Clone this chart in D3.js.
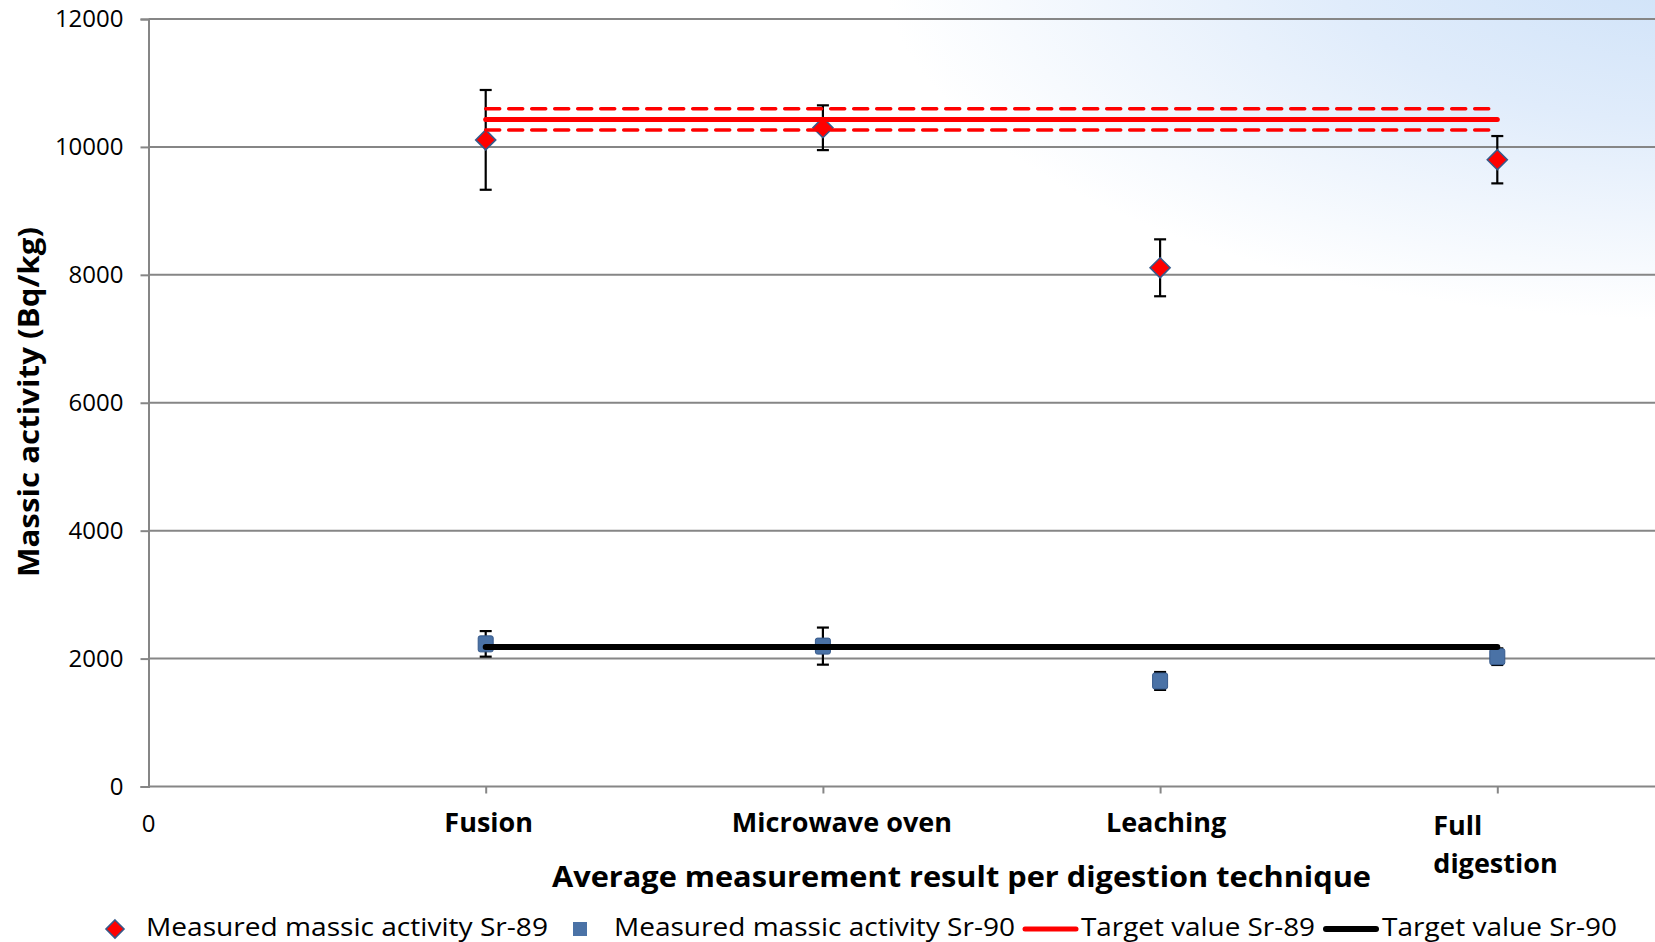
<!DOCTYPE html>
<html>
<head>
<meta charset="utf-8">
<script src="https://cdn.jsdelivr.net/npm/d3@7"></script>
<style>
  body { margin: 0; background: #fff; }
  svg { display: block; font-family: 'Open Sans', 'Noto Sans', sans-serif; }
</style>
</head>
<body>
<div id="chart"></div>
<script>
// categories sit at x = 1..4 on a numeric axis that starts at 0
const techniques = ['Fusion', 'Microwave oven', 'Leaching', 'Full digestion'];
const positions = [1, 2, 3, 4];

const sr89 = [10110, 10300, 8110, 9800];
const sr89Err = [780, 350, 445, 370];
const sr90 = [2230, 2195, 1650, 2030];
const sr90Err = [200, 290, 140, 130];

const target89 = 10430;
const target89Band = 165;
const target90 = 2180;

const yTicks = [0, 2000, 4000, 6000, 8000, 10000, 12000];
const legendLabels = [
  'Measured massic activity Sr-89',
  'Measured massic activity Sr-90',
  'Target value Sr-89',
  'Target value Sr-90'
];

const W = 1655, H = 942;
const RED = '#ff0000', BLUE = '#4a72a6', BLUE_EDGE = '#36598a', GRID = '#868686';

const svg = d3.select('#chart').append('svg')
  .attr('width', W).attr('height', H);

// slide background: light blue wash in the top right corner (elliptical)
const defs = svg.append('defs');
const grad = defs.append('radialGradient')
  .attr('id', 'bg').attr('gradientUnits', 'userSpaceOnUse')
  .attr('cx', 0).attr('cy', 0).attr('r', 1)
  .attr('gradientTransform', 'translate(1700,-40) scale(820,360)');
grad.append('stop').attr('offset', 0).attr('stop-color', '#cde1f8');
grad.append('stop').attr('offset', 0.45).attr('stop-color', '#e0ecfb');
grad.append('stop').attr('offset', 1).attr('stop-color', '#ffffff');
svg.append('rect').attr('width', W).attr('height', H).attr('fill', '#fff');
svg.append('rect').attr('width', W).attr('height', H).attr('fill', 'url(#bg)');

const x = d3.scaleLinear().domain([0, 5]).range([148.5, 1834.5]);
const y = d3.scaleLinear().domain([0, 12000]).range([786.5, 19]);

// gridlines
svg.append('g')
  .selectAll('line').data(yTicks.filter(d => d > 0)).join('line')
  .attr('x1', x(0)).attr('x2', W)
  .attr('y1', d => y(d)).attr('y2', d => y(d))
  .attr('stroke', GRID).attr('stroke-width', 2);

// y axis
const yAxis = svg.append('g')
  .attr('transform', `translate(${x(0)},0)`)
  .call(d3.axisLeft(y).tickValues(yTicks).tickSize(8).tickPadding(17).tickFormat(d3.format('d')));
yAxis.select('.domain').attr('stroke', GRID).attr('stroke-width', 2);
yAxis.selectAll('.tick line').attr('stroke', GRID).attr('stroke-width', 2);
yAxis.selectAll('.tick text')
  .attr('font-size', 24).attr('fill', '#000')
  .attr('font-family', "'Open Sans', sans-serif");

// x axis
const xAxis = svg.append('g')
  .attr('transform', `translate(0,${y(0)})`)
  .call(d3.axisBottom(x).tickValues(positions).tickSize(7).tickFormat(''));
xAxis.select('.domain').attr('d', `M${x(0)},0H${W}`).attr('stroke', GRID).attr('stroke-width', 2);
xAxis.selectAll('.tick line').attr('stroke', GRID).attr('stroke-width', 2);

// "0" at the origin
svg.append('text')
  .attr('x', x(0)).attr('y', 832)
  .attr('text-anchor', 'middle')
  .attr('font-size', 24)
  .text('0');

// category labels (placed as text boxes, slightly off the ticks)
const labelDx = [3, 19, 6, -64];
svg.append('g').selectAll('text').data(techniques).join('text')
  .attr('x', (d, i) => x(positions[i]) + labelDx[i])
  .attr('y', 832)
  .attr('text-anchor', (d, i) => i === 3 ? 'start' : 'middle')
  .attr('font-size', 27).attr('font-weight', 'bold')
  .each(function (d, i) {
    const t = d3.select(this);
    if (i === 3) {
      const words = d.split(' ');
      t.append('tspan').attr('x', x(positions[i]) + labelDx[i]).attr('y', 835).text(words[0]);
      t.append('tspan').attr('x', x(positions[i]) + labelDx[i]).attr('y', 873).text(words[1]);
    } else {
      t.text(d);
    }
  });

// axis titles
svg.append('text')
  .attr('x', 961.5).attr('y', 886.5)
  .attr('text-anchor', 'middle')
  .attr('font-size', 29).attr('font-weight', 'bold')
  .attr('textLength', 819).attr('lengthAdjust', 'spacingAndGlyphs')
  .text('Average measurement result per digestion technique');

svg.append('text')
  .attr('transform', 'translate(38.5,402) rotate(-90)')
  .attr('text-anchor', 'middle')
  .attr('font-size', 29).attr('font-weight', 'bold')
  .attr('textLength', 350).attr('lengthAdjust', 'spacingAndGlyphs')
  .text('Massic activity (Bq/kg)');

// error bars
const errData = positions.map((p, i) => ({ p, v: sr89[i], e: sr89Err[i] }))
  .concat(positions.map((p, i) => ({ p, v: sr90[i], e: sr90Err[i] })));
const err = svg.append('g').attr('stroke', '#000').attr('stroke-width', 2.2);
err.selectAll('.stem').data(errData).join('line')
  .attr('x1', d => x(d.p)).attr('x2', d => x(d.p))
  .attr('y1', d => y(d.v + d.e)).attr('y2', d => y(d.v - d.e));
err.selectAll('.capT').data(errData).join('line')
  .attr('x1', d => x(d.p) - 6).attr('x2', d => x(d.p) + 6)
  .attr('y1', d => y(d.v + d.e)).attr('y2', d => y(d.v + d.e));
err.selectAll('.capB').data(errData).join('line')
  .attr('x1', d => x(d.p) - 6).attr('x2', d => x(d.p) + 6)
  .attr('y1', d => y(d.v - d.e)).attr('y2', d => y(d.v - d.e));

// markers
const diamond = (cx, cy, w, h) => `M${cx},${cy - h / 2}L${cx + w / 2},${cy}L${cx},${cy + h / 2}L${cx - w / 2},${cy}Z`;
svg.append('g').selectAll('path').data(sr89).join('path')
  .attr('d', (d, i) => diamond(x(positions[i]), y(d), 20, 20))
  .attr('fill', RED).attr('stroke', BLUE_EDGE).attr('stroke-width', 1.6);

svg.append('g').selectAll('rect').data(sr90).join('rect')
  .attr('x', (d, i) => x(positions[i]) - 7.5).attr('y', d => y(d) - 8)
  .attr('width', 15).attr('height', 16).attr('rx', 2)
  .attr('fill', BLUE).attr('stroke', BLUE_EDGE).attr('stroke-width', 1);

// target lines on top
const span = [positions[0], positions[positions.length - 1]];
const line = d3.line().x(d => x(d[0])).y(d => y(d[1]));
[target89 + target89Band, target89 - target89Band].forEach(v => {
  svg.append('path')
    .attr('d', line(span.map(p => [p, v])))
    .attr('fill', 'none').attr('stroke', RED).attr('stroke-width', 3.5)
    .attr('stroke-dasharray', '14 9').attr('stroke-linecap', 'round');
});
svg.append('path')
  .attr('d', line(span.map(p => [p, target89])))
  .attr('fill', 'none').attr('stroke', RED).attr('stroke-width', 5)
  .attr('stroke-linecap', 'round');
svg.append('path')
  .attr('d', line(span.map(p => [p, target90])))
  .attr('fill', 'none').attr('stroke', '#000').attr('stroke-width', 6)
  .attr('stroke-linecap', 'round');

// legend
const legY = 936;
const legend = svg.append('g').attr('font-size', 25);
const legText = [146, 614, 1081, 1382];
const legWidth = [402, 401, 234, 235];
legend.selectAll('text').data(legendLabels).join('text')
  .attr('x', (d, i) => legText[i]).attr('y', legY)
  .attr('textLength', (d, i) => legWidth[i]).attr('lengthAdjust', 'spacingAndGlyphs')
  .text(d => d);
legend.append('path')
  .attr('d', diamond(115, 929, 18, 18))
  .attr('fill', RED).attr('stroke', BLUE_EDGE).attr('stroke-width', 1.6);
legend.append('rect')
  .attr('x', 573).attr('y', 922).attr('width', 14).attr('height', 14)
  .attr('fill', BLUE);
legend.append('line')
  .attr('x1', 1025).attr('x2', 1076).attr('y1', 929).attr('y2', 929)
  .attr('stroke', RED).attr('stroke-width', 5).attr('stroke-linecap', 'round');
legend.append('line')
  .attr('x1', 1326).attr('x2', 1376).attr('y1', 929).attr('y2', 929)
  .attr('stroke', '#000').attr('stroke-width', 6).attr('stroke-linecap', 'round');
</script>
</body>
</html>
